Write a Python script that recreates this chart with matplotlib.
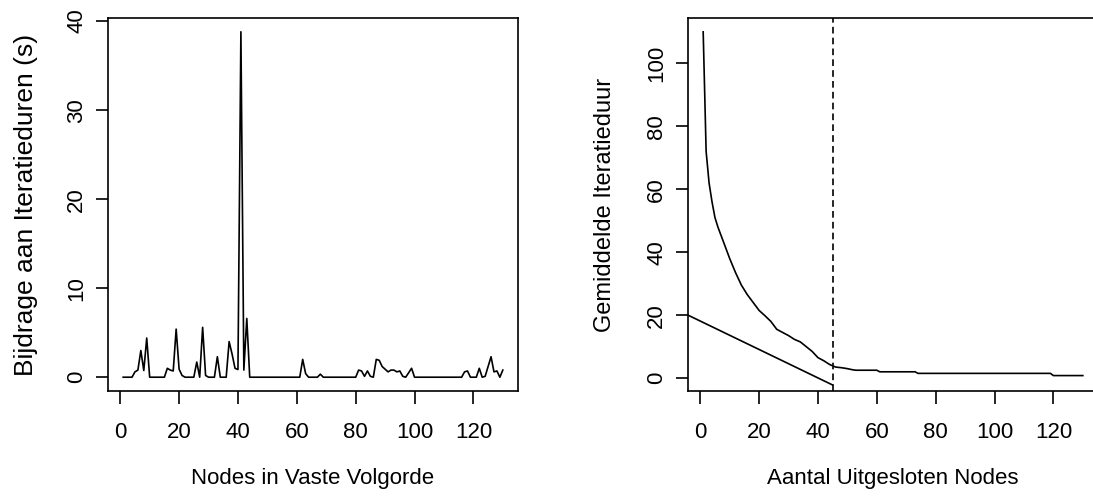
import matplotlib
matplotlib.use("Agg")
import matplotlib.pyplot as plt

plt.rcParams['font.family'] = ['Liberation Sans', 'DejaVu Sans']

# left panel: contribution per node, nodes 1..130 in fixed order
node_idx = list(range(1, 131))
bijdrage = [
    0, 0, 0, 0, 0.6, 0.8, 3.0, 0.75, 4.4, 0,
    0, 0, 0, 0, 0, 1.0, 0.8, 0.7, 5.4, 0.9,
    0.2, 0, 0, 0, 0, 1.7, 0, 5.6, 0.2, 0,
    0, 0, 2.3, 0, 0, 0, 4.0, 2.6, 1.0, 0.86,
    38.8, 0.8, 6.6, 0, 0, 0, 0, 0, 0, 0,
    0, 0, 0, 0, 0, 0, 0, 0, 0, 0,
    0, 2.0, 0.4, 0, 0, 0, 0, 0.34, 0, 0,
    0, 0, 0, 0, 0, 0, 0, 0, 0, 0,
    0.8, 0.7, 0.1, 0.7, 0.1, 0, 2.0, 1.9, 1.2, 0.9,
    0.6, 0.8, 0.8, 0.6, 0.7, 0.1, 0, 0.5, 1.0, 0,
    0, 0, 0, 0, 0, 0, 0, 0, 0, 0,
    0, 0, 0, 0, 0, 0, 0.6, 0.7, 0, 0,
    0, 1.0, 0, 0.1, 1.2, 2.3, 0.6, 0.7, 0, 0.8,
]

# right panel: mean iteration time vs number of excluded nodes
excluded = [1, 2, 3, 4, 5, 6, 8, 10, 12, 14, 16, 18, 20, 22, 24, 26, 28, 30,
            32, 34, 36, 38, 40, 42, 44, 45, 46, 48, 50, 52, 53, 60, 61, 73,
            74, 119, 120, 130]
gem_duur = [110, 72, 62, 56, 51, 48, 43, 38, 33.5, 29.5, 26.5, 24, 21.5,
            19.8, 18, 15.5, 14.5, 13.5, 12.3, 11.5, 10, 8.5, 6.5, 5.5, 4.3,
            3.9, 3.5, 3.3, 3.0, 2.6, 2.5, 2.5, 2.0, 2.0, 1.5, 1.5, 0.8, 0.8]
trend_x = [-4.16, 45]
trend_y = [20.0, -2.2]
cutoff = 45

W, H = 1093, 500
fig = plt.figure(figsize=(W / 100, H / 100), dpi=100)
fs = 16

ax1 = fig.add_axes([108 / W, 109 / H, 410 / W, 373 / H])
ax2 = fig.add_axes([688 / W, 109 / H, 410 / W, 373 / H])

ax1.plot(node_idx, bijdrage, color='black', lw=1.2)
ax1.set_xlim(-4.16, 135.16)
ax1.set_ylim(-1.55, 40.35)
ax1.set_xticks([0, 20, 40, 60, 80, 100, 120])
ax1.set_yticks([0, 10, 20, 30, 40])
ax1.set_xlabel("Nodes in Vaste Volgorde", fontsize=16, labelpad=18)
ax1.set_ylabel("Bijdrage aan Iteratieduren (s)", fontsize=19, labelpad=20)

ax2.plot(excluded, gem_duur, color='black', lw=1.2)
ax2.plot(trend_x, trend_y, color='black', lw=1.2)
ax2.axvline(cutoff, color='black', lw=1.2, dashes=(4, 2.5))
ax2.set_xlim(-4.16, 135.16)
ax2.set_ylim(-4.1, 114.4)
ax2.set_xticks([0, 20, 40, 60, 80, 100, 120])
ax2.set_yticks([0, 20, 40, 60, 80, 100])
ax2.set_xlabel("Aantal Uitgesloten Nodes", fontsize=16, labelpad=18)
ax2.set_ylabel("Gemiddelde Iteratieduur", fontsize=17, labelpad=22)

for ax in (ax1, ax2):
    for s in ax.spines.values():
        s.set_linewidth(1.2)
    ax.tick_params(direction='out', length=9, width=1.2, labelsize=fs)
    ax.tick_params(axis='x', pad=13)
    ax.tick_params(axis='y', pad=6)
    for lab in ax.get_yticklabels():
        lab.set_rotation(90)
        lab.set_va('center')

fig.savefig("out.png", dpi=100)
